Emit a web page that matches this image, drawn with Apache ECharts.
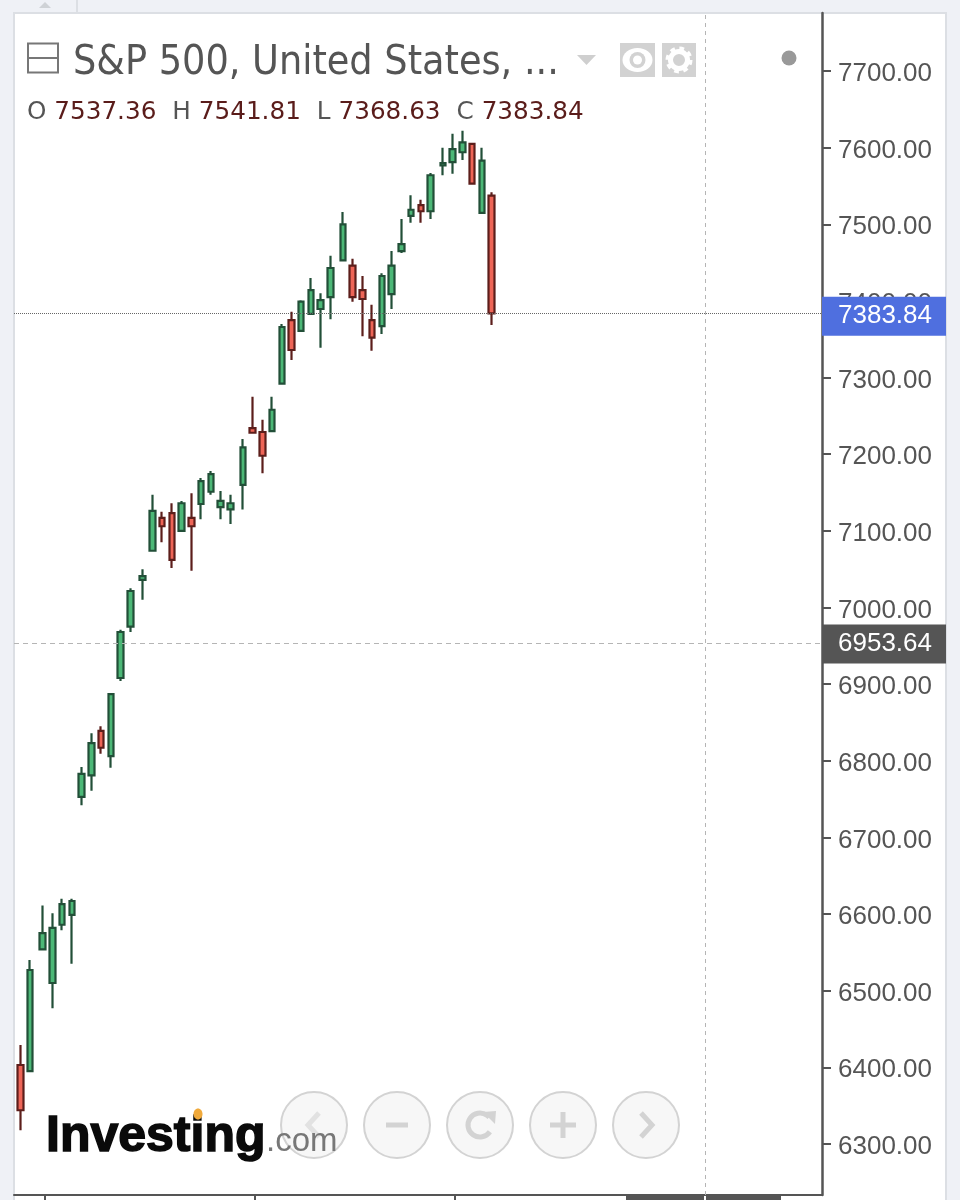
<!DOCTYPE html>
<html>
<head>
<meta charset="utf-8">
<style>html,body{margin:0;padding:0;background:#eff1f6}#c{width:960px;height:1200px}</style>
<script src="https://cdn.jsdelivr.net/npm/echarts@6/dist/echarts.min.js"></script>
</head>
<body>
<div id="c"></div>
<script>
// open, close, low, high per bar, oldest first
const opens = [6403,6395,6554,6510,6586,6599,6753,6781,6839,6806,6908,6975,7036,7074,7117,7123,7100,7117,7135,7151,7131,7128,7160,7234,7229,7230,7292,7375,7361,7383,7389.5,7405,7453,7446,7414,7375,7367,7409,7465,7511,7525,7517,7577,7581,7594,7605,7515,7537.36];
const closes = [6344,6527,6575,6582,6613,6617,6783,6823,6817,6887,6968,7021.5,7041,7126,7106,7062,7136,7106,7165,7174,7139,7136,7209,7228,7198,7258,7366,7336,7399,7414,7401,7443,7500,7405,7402.5,7352,7432.5,7446,7474,7519,7517,7564,7580,7598,7607,7553,7583,7383.84];
const lows = [6318,6395,6554,6477,6579,6535,6742,6761,6809,6791,6904,6968,7010,7074,7085,7051.5,7100,7048,7115,7147,7115,7109,7128,7228,7175,7230,7292,7323,7361,7383,7339,7376,7453,7399,7354,7335,7357,7389.5,7462.5,7502,7502,7507,7564,7566,7584,7553,7515,7368.63];
const highs = [6429,6540,6611,6601,6620,6620,6792,6836,6845,6887,6971,7025,7050,7147,7125,7136,7139,7149,7169,7178,7152,7147,7220,7275,7245,7275,7370,7386,7401,7430,7410,7459,7516,7455,7432.5,7395,7436,7465,7507,7538,7532,7567,7600,7618,7622,7605,7600,7541.81];
const priceTicks = [6300,6400,6500,6600,6700,6800,6900,7000,7100,7200,7300,7400,7500,7600,7700];
const lastClose = 7383.84;
const crossPrice = 6953.64;
const titleText = 'S&P 500, United States, ...';
const ohlcLabels = ['O','H','L','C'];
const ohlcValues = ['7537.36','7541.81','7368.63','7383.84'];

// Bars sit on a continuous slot scale; each block of ten is set slightly apart
const blockGap = 0.27, firstBlockBars = 2, blockBars = 10;
const slot = i => i + blockGap * Math.ceil(Math.max(0, i - firstBlockBars + 1) / blockBars);
const candleData = opens.map((o, i) => [slot(i), o, closes[i], lows[i], highs[i]]);
const xMin = -0.667, xMax = 82.25;
const timeTicks = [2.51, 24.07, 44.6];
const crossSlot = 70.25;

const chart = echarts.init(document.getElementById('c'), null, {renderer:'canvas', width:960, height:1200});
const GREY = '#555555', BTN = '#d3d3d3', SANS = '"Liberation Sans", Arial, sans-serif', DEJA = '"DejaVu Sans", sans-serif', COND = '"DejaVu Sans Condensed", "DejaVu Sans", sans-serif';

function navButton(cx, inner){
  return {type:'group', z:20, children:[
    {type:'circle', shape:{cx:cx, cy:1125, r:33}, style:{fill:'#f7f7f7', stroke:BTN, lineWidth:2}}
  ].concat(inner)};
}
const btnLine = {stroke:'#d3d3d3', fill:'none', lineWidth:5};
const graphics = [
  // page frame
  {type:'rect', z:-20, shape:{x:14,y:13,width:932,height:1190}, style:{fill:'#ffffff', stroke:'#dcdfe4', lineWidth:2}},
  {type:'line', z:-20, shape:{x1:77,y1:0,x2:77,y2:12}, style:{stroke:'#dcdfe4', lineWidth:2}},
  {type:'polygon', z:-20, shape:{points:[[39,8],[51,8],[45,2]]}, style:{fill:'#cfd2d6'}},
  // bottom time-label remnants
  {type:'rect', z:-5, shape:{x:626,y:1196,width:78,height:5}, style:{fill:GREY}},
  {type:'rect', z:-5, shape:{x:706,y:1196,width:75,height:5}, style:{fill:GREY}},
  // collapse box
  {type:'rect', z:20, shape:{x:28,y:43.5,width:30,height:29}, style:{fill:'none', stroke:'#777', lineWidth:2}},
  {type:'line', z:20, shape:{x1:29,y1:58,x2:57,y2:58}, style:{stroke:'#777', lineWidth:2}},
  // title + OHLC
  {type:'text', z:20, x:73, y:63, style:{text:titleText, fill:'#555', font:'40.8px '+COND, textVerticalAlign:'middle'}},
  {type:'polygon', z:20, shape:{points:[[577,55],[596,55],[586.5,65]]}, style:{fill:'#cfcfcf'}},
  {type:'text', z:20, x:27, y:113, style:{
    text: ohlcLabels.map((l,i)=>'{l|'+l+' }{v|'+ohlcValues[i]+'}').join('{s| }'),
    textVerticalAlign:'middle',
    rich:{
      l:{fill:'#555', font:'24.7px '+DEJA},
      v:{fill:'#5a1c1a', font:'24.7px '+DEJA},
      s:{font:'14px '+DEJA, width:16}
    }}},
  // eye
  {type:'rect', z:20, shape:{x:620,y:43,width:35,height:34}, style:{fill:'#d2d2d2'}},
  {type:'ellipse', z:21, shape:{cx:637.5,cy:60,rx:15,ry:12}, style:{fill:'#fff'}},
  {type:'circle', z:22, shape:{cx:637.5,cy:60,r:8}, style:{fill:'#d2d2d2'}},
  {type:'circle', z:23, shape:{cx:637.5,cy:60,r:4.5}, style:{fill:'#fff'}},
  // gear
  {type:'rect', z:20, shape:{x:662,y:43,width:34,height:34}, style:{fill:'#d2d2d2'}},
  {type:'circle', z:21, shape:{cx:679,cy:60,r:10.5}, style:{fill:'none', stroke:'#fff', lineWidth:6, lineDash:[4.2,4.05]}},
  {type:'circle', z:22, shape:{cx:679,cy:60,r:8.5}, style:{fill:'none', stroke:'#fff', lineWidth:5}},
  // status dot
  {type:'circle', z:20, shape:{cx:789,cy:58,r:7.5}, style:{fill:'#999'}},
  // nav buttons
  navButton(314, [{type:'polyline', shape:{points:[[319,1113],[308,1125],[319,1137]]}, style:{stroke:'#e2e2e2', fill:'none', lineWidth:5}}]),
  navButton(397, [{type:'line', shape:{x1:386,y1:1125,x2:408,y2:1125}, style:btnLine}]),
  navButton(480, [
    {type:'arc', shape:{cx:480,cy:1125,r:12,startAngle:0.6,endAngle:5.6,clockwise:true}, style:{stroke:'#d3d3d3',fill:'none',lineWidth:5}},
    {type:'polygon', shape:{points:[[483,1112],[496,1111],[495,1124]]}, style:{fill:'#d3d3d3'}}
  ]),
  navButton(563, [
    {type:'line', shape:{x1:550,y1:1125,x2:576,y2:1125}, style:btnLine},
    {type:'line', shape:{x1:563,y1:1112,x2:563,y2:1138}, style:btnLine}
  ]),
  navButton(646, [{type:'polyline', shape:{points:[[641,1113],[652,1125],[641,1137]]}, style:{stroke:'#d3d3d3', fill:'none', lineWidth:5}}]),
  // logo
  {type:'text', z:30, x:46, y:1137, style:{text:'Investing', fill:'#0a0a0a', font:'bold 50px '+SANS, textVerticalAlign:'middle', stroke:'#0a0a0a', lineWidth:1.5, shadowBlur:2, shadowColor:'#333'}},
  {type:'text', z:30, x:266, y:1142, style:{text:'.com', fill:'#777', font:'33px '+SANS, textVerticalAlign:'middle'}},
  {type:'ellipse', z:31, shape:{cx:198,cy:1114,rx:4.5,ry:5.5}, style:{fill:'#f0a93a'}}
];

function priceLabel(bg, dy){
  return {
    show:true, position:'end', distance:0, formatter:p=>p.value.toFixed(2), offset:[0,dy],
    color:'#fff', fontFamily:SANS, fontSize:26, backgroundColor:bg,
    padding:[7,12,5,16], width:96, lineHeight:27, align:'left'
  };
}

chart.setOption({
  animation:false,
  backgroundColor:'#eff1f6',
  graphic:graphics,
  grid:{left:14, right:138, top:13, bottom:5, containLabel:false},
  xAxis:{
    type:'value', min:xMin, max:xMax, position:'bottom',
    splitLine:{show:false},
    axisLine:{show:true, onZero:false, lineStyle:{color:GREY, width:2}},
    axisTick:{show:true, customValues:timeTicks, length:5, lineStyle:{color:GREY, width:2}},
    axisLabel:{show:false, customValues:timeTicks}
  },
  yAxis:{
    type:'value', position:'right', min:6233.4, max:7775.7, scale:true,
    splitLine:{show:false},
    axisLine:{show:true, onZero:false, lineStyle:{color:GREY, width:2.5}},
    axisTick:{show:true, customValues:priceTicks, length:9, lineStyle:{color:GREY, width:2}},
    axisLabel:{show:true, customValues:priceTicks, formatter:v=>Number(v).toFixed(2), color:'#555', fontFamily:SANS, fontSize:26, margin:16, verticalAlign:'top', lineHeight:6}
  },
  series:[{
    type:'candlestick',
    encode:{x:0, y:[1,2,3,4]},
    barWidth:6,
    clip:false,
    data:candleData,
    itemStyle:{color:'#4cb877', color0:'#ee6557', borderColor:'#224f38', borderColor0:'#5c1e1b', borderWidth:2.2},
    markLine:{
      silent:true, symbol:'none', animation:false,
      data:[
        {yAxis:lastClose, lineStyle:{color:'#666', type:'dotted', width:1}, label:priceLabel('#4f6fdf',3)},
        {yAxis:crossPrice, lineStyle:{color:'#b5b5b5', type:[5,4], width:1}, label:priceLabel('#555555',1)},
        {xAxis:crossSlot, lineStyle:{color:'#b5b5b5', type:[4,4], width:1}, label:{show:false}}
      ]
    }
  }]
});
</script>
</body>
</html>
